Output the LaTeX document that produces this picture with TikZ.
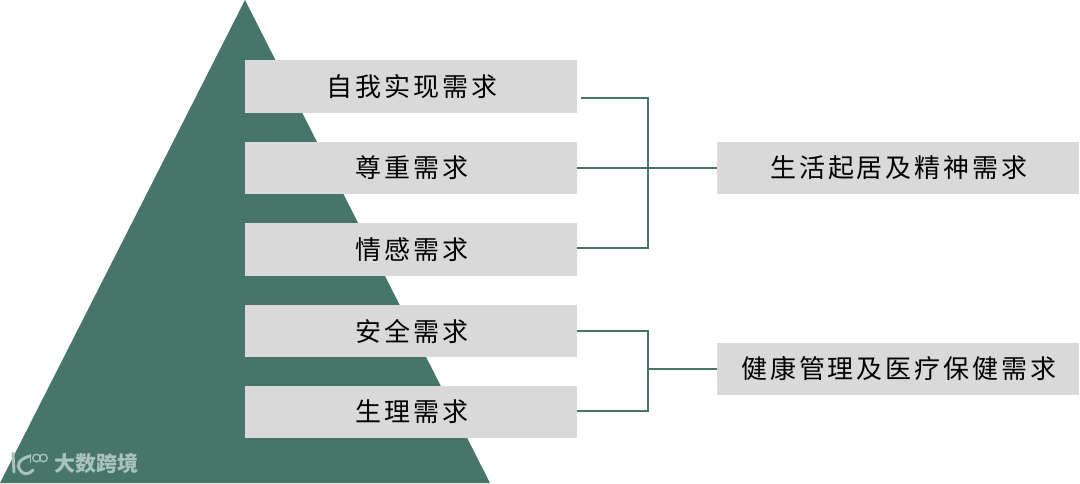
\documentclass[tikz,border=0pt]{standalone}
\usepackage{fontspec}
\usetikzlibrary{calc}
\newfontfamily\cjk[LetterSpace=11.5]{Noto Sans CJK SC}
\newfontfamily\wmfont{Noto Sans CJK SC}
\definecolor{pyr}{HTML}{47756A}
\definecolor{boxgray}{HTML}{D9D9D9}
\definecolor{wm}{HTML}{A9C2BB}
\tikzset{
  px/.style={x=1pt,y=-1pt},
  graybox/.style={fill=boxgray,draw=none,inner sep=0pt,minimum height=52.5pt,font=\cjk\fontsize{26}{26}\selectfont,text=black},
  leftbox/.style={graybox,minimum width=332pt},
  rightbox/.style={graybox,minimum width=362pt},
  conn/.style={draw=pyr,line width=1.4pt}
}
\begin{document}
\begin{tikzpicture}[px]
\useasboundingbox (0,0) rectangle (1080,483);
\fill[pyr] (245,0) -- (490,483) -- (0,483) -- cycle;
\node[leftbox] (a) at (411,86.5) {\kern2pt 自我实现需求};
\node[leftbox] (b) at (411,168) {\kern2pt 尊重需求};
\node[leftbox] (c) at (411,249.5) {\kern2pt 情感需求};
\node[leftbox] (d) at (411,331) {\kern2pt 安全需求};
\node[leftbox] (e) at (411,412) {\kern2pt 生理需求};
\node[rightbox] (f) at (898,168) {\kern2pt 生活起居及精神需求};
\node[rightbox] (g) at (898,369) {\kern2pt 健康管理及医疗保健需求};
\coordinate (as) at (581,98);
\coordinate (ac) at (648,98);
\coordinate (cc) at (648,248);
\coordinate (cs) at (577,248);
\coordinate (dc) at (648,331);
\coordinate (ec) at (648,411);
\coordinate (es) at (577,411);
\coordinate (gc) at (648,369);
\draw[conn] (as) -- (ac) -- (cc) -- (cs);
\draw[conn] (b.east) -- (f.west);
\draw[conn] (d.east) -- (dc) -- (ec) -- (es);
\draw[conn] (gc) -- (g.west);
% watermark
\node[font=\wmfont\bfseries\fontsize{21}{21}\selectfont,text=wm,inner sep=0pt] (wmt) at (96,463) {大数跨境};
\draw[wm,line width=3pt,line cap=round] (13,453) -- (14,472);
\draw[wm,line width=3pt,line cap=round] (30,456) .. controls (19,459) and (16,465) .. (20,470) .. controls (23,475) and (29,475) .. (33,470);
\draw[wm,line width=1.3pt] (30.5,454) -- (30.5,463);
\draw[wm,line width=1.3pt] (36.5,458) circle[radius=3.8pt];
\draw[wm,line width=1.3pt] (43.5,458) circle[radius=3.8pt];
\end{tikzpicture}
\end{document}
